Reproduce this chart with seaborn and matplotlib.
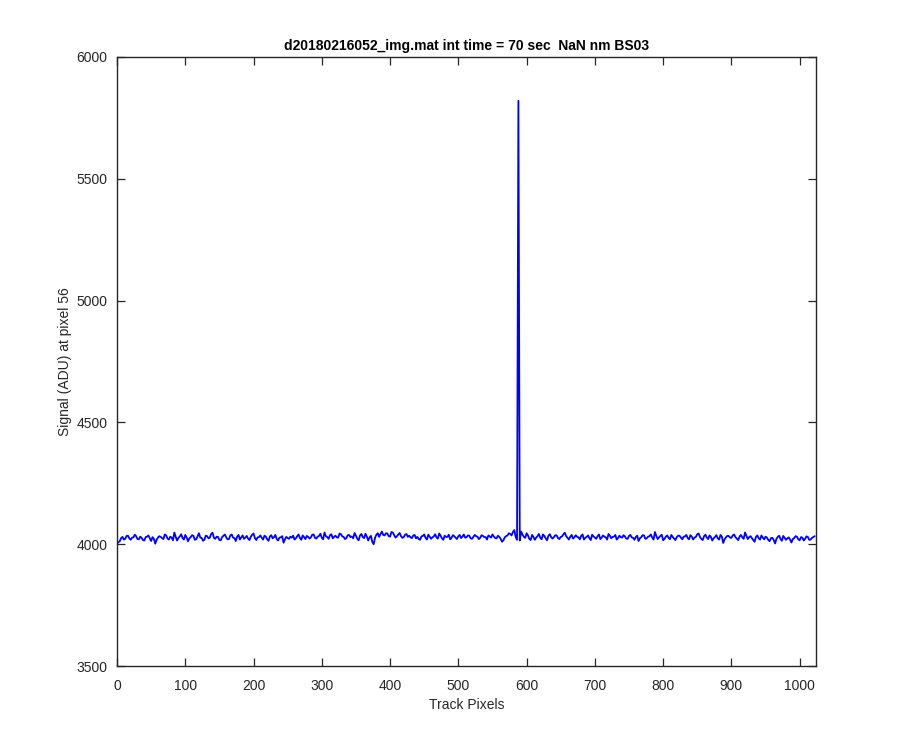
import numpy as np
import pandas as pd
import matplotlib
matplotlib.use("Agg")
import matplotlib.pyplot as plt
import seaborn as sns

title = "d20180216052_img.mat int time = 70 sec  NaN nm BS03"
xlabel = "Track Pixels"
ylabel = "Signal (ADU) at pixel 56"

track_pixels = list(range(0, 1024, 2))
signal = [
    4003, 4008, 4012, 4025, 4030, 4019, 4022, 4034, 4035, 4024, 4018, 4027, 4028, 4039, 4033, 4021,
    4020, 4031, 4026, 4017, 4015, 4029, 4031, 4036, 4024, 4013, 4029, 4022, 4002, 4018, 4027, 4033,
    4030, 4025, 4021, 4040, 4036, 4023, 4019, 4031, 4027, 4016, 4048, 4030, 4015, 4026, 4032, 4041,
    4025, 4019, 4038, 4028, 4012, 4024, 4029, 4037, 4034, 4018, 4020, 4033, 4045, 4027, 4026, 4014,
    4018, 4035, 4033, 4024, 4027, 4042, 4047, 4026, 4022, 4031, 4030, 4017, 4016, 4029, 4035, 4040,
    4028, 4020, 4021, 4036, 4040, 4027, 4025, 4013, 4031, 4038, 4019, 4028, 4036, 4022, 4027, 4034,
    4023, 4017, 4030, 4039, 4044, 4025, 4017, 4028, 4029, 4036, 4026, 4019, 4035, 4031, 4020, 4014,
    4032, 4037, 4024, 4029, 4038, 4021, 4015, 4027, 4028, 4033, 4006, 4020, 4030, 4025, 4022, 4031,
    4027, 4035, 4019, 4024, 4033, 4040, 4025, 4018, 4036, 4029, 4021, 4034, 4030, 4023, 4028, 4039,
    4040, 4026, 4023, 4031, 4034, 4043, 4026, 4020, 4048, 4033, 4029, 4022, 4037, 4041, 4024, 4030,
    4035, 4028, 4027, 4044, 4041, 4032, 4030, 4021, 4025, 4037, 4038, 4029, 4032, 4024, 4046, 4035,
    4022, 4016, 4036, 4042, 4029, 4025, 4043, 4031, 4015, 4028, 4034, 4009, 4000, 4026, 4039, 4045,
    4030, 4041, 4052, 4038, 4036, 4045, 4044, 4033, 4031, 4050, 4048, 4037, 4027, 4032, 4040, 4046,
    4033, 4026, 4029, 4039, 4042, 4030, 4035, 4028, 4025, 4036, 4038, 4024, 4030, 4021, 4018, 4032,
    4034, 4040, 4026, 4019, 4039, 4031, 4022, 4028, 4032, 4041, 4028, 4023, 4044, 4035, 4024, 4018,
    4035, 4030, 4030, 4039, 4020, 4026, 4037, 4033, 4027, 4021, 4033, 4038, 4025, 4031, 4040, 4027,
    4028, 4036, 4035, 4024, 4022, 4030, 4038, 4033, 4031, 4021, 4026, 4037, 4034, 4029, 4029, 4019,
    4036, 4032, 4027, 4040, 4032, 4025, 4024, 4035, 4030, 4022, 4010, 4016, 4028, 4033, 4036, 4045,
    4042, 4036, 4050, 4058, 4030, 4018, 5820, 4015, 4052, 4040, 4030, 4026, 4045, 4036, 4022, 4017,
    4038, 4030, 4018, 4027, 4033, 4042, 4027, 4020, 4040, 4034, 4024, 4016, 4035, 4041, 4029, 4023,
    4029, 4037, 4036, 4025, 4021, 4030, 4032, 4041, 4047, 4033, 4026, 4019, 4031, 4038, 4023, 4028,
    4037, 4030, 4028, 4020, 4034, 4040, 4019, 4026, 4030, 4036, 4025, 4017, 4039, 4032, 4027, 4022,
    4033, 4040, 4021, 4027, 4036, 4031, 4028, 4019, 4042, 4035, 4024, 4030, 4031, 4038, 4019, 4025,
    4035, 4029, 4027, 4037, 4032, 4023, 4022, 4034, 4038, 4028, 4026, 4018, 4030, 4035, 4013, 4024,
    4029, 4037, 4036, 4022, 4024, 4031, 4033, 4040, 4027, 4019, 4050, 4034, 4021, 4028, 4034, 4039,
    4016, 4022, 4031, 4036, 4026, 4020, 4038, 4030, 4023, 4017, 4029, 4035, 4035, 4027, 4020, 4031,
    4032, 4038, 4025, 4020, 4037, 4031, 4019, 4027, 4030, 4041, 4044, 4029, 4022, 4017, 4033, 4039,
    4027, 4021, 4036, 4030, 4015, 4024, 4030, 4037, 4024, 4019, 4038, 4031, 4005, 4020, 4028, 4034,
    4034, 4027, 4026, 4036, 4040, 4029, 4023, 4017, 4031, 4038, 4028, 4022, 4048, 4034, 4021, 4029,
    4033, 4025, 4017, 4010, 4030, 4036, 4024, 4019, 4036, 4027, 4020, 4031, 4027, 4018, 4012, 4025,
    4026, 4017, 4003, 4022, 4030, 4035, 4021, 4014, 4034, 4026, 4018, 4024, 4028, 4019, 4007, 4021,
    4025, 4033, 4031, 4020, 4016, 4029, 4027, 4015, 4022, 4032, 4030, 4018, 4019, 4026, 4029, 4033,
]
xticks = [0, 100, 200, 300, 400, 500, 600, 700, 800, 900, 1000]
yticks = [3500, 4000, 4500, 5000, 5500, 6000]

sns.set_style("white")
plt.rcParams['font.family'] = ['Liberation Sans', 'DejaVu Sans']

df = pd.DataFrame({"x": track_pixels, "y": signal})

fig = plt.figure(figsize=(9, 7.5), dpi=100)
ax = fig.add_axes([0.13, 0.112, 0.7767, 0.812])
sns.lineplot(data=df, x="x", y="y", ax=ax, color=(0, 0, 1), linewidth=1.3, estimator=None)

ax.set_xlim(0, 1024)
ax.set_ylim(3500, 6000)
ax.set_xticks(xticks)
ax.set_yticks(yticks)
dark = (0.15, 0.15, 0.15)
ax.tick_params(direction='in', top=True, right=True, bottom=True, left=True,
               length=6, width=0.9, labelsize=10, colors=dark)
ax.tick_params(axis='x', pad=9)
ax.tick_params(axis='y', pad=7)
for s in ax.spines.values():
    s.set_color(dark)
    s.set_linewidth(1.0)
ax.set_xlabel(xlabel, fontsize=10, color=dark, labelpad=4)
ax.set_ylabel(ylabel, fontsize=10, color=dark, labelpad=3)
ax.set_title(title, fontsize=10, fontweight='bold', color='black', pad=5)

fig.savefig("out.png", dpi=100)
